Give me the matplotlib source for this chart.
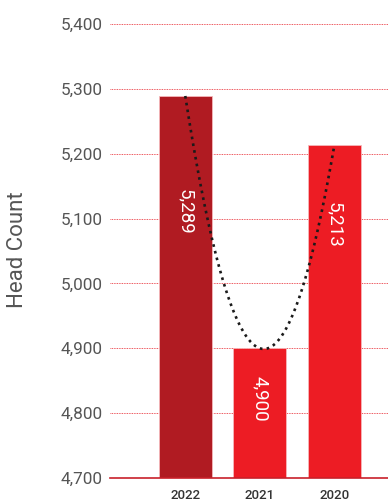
import numpy as np
import matplotlib.pyplot as plt

years = ["2022", "2021", "2020"]
head_count = [5289, 4900, 5213]
bar_colors = ["#B01B22", "#ED1C24", "#ED1C24"]
label_y = [5110, 4822, 5091]

plt.rcParams['font.family'] = ['Roboto', 'DejaVu Sans']

fig = plt.figure(figsize=(3.88, 5.01), dpi=100)
ax = fig.add_axes([110 / 388, 1 - 478 / 501, 1 - 110 / 388, (478 - 24) / 501])

x = np.arange(len(years))
ax.bar(x, head_count, width=0.71, color=bar_colors, edgecolor="#F6B8BA", linewidth=0.6, zorder=2)

for xi, v, ly in zip(x, head_count, label_y):
    ax.text(xi, ly, f"{v:,}", rotation=-90, ha="center", va="center",
            color="white", fontsize=13.5, zorder=4)

# quadratic trendline through the bars
coef = np.polyfit(x, head_count, 2)
xs = np.linspace(0, 2, 200)
ax.plot(xs, np.polyval(coef, xs), linestyle=(0, (1, 1.6)), color="#1a1a1a", linewidth=1.9, zorder=3)

ax.set_ylim(4700, 5400)
ax.set_xlim(-1.01, 2.72)
ax.set_yticks(np.arange(4700, 5401, 100))
ax.set_yticklabels([f"{t:,}" for t in range(4700, 5401, 100)], fontsize=12.3, color="#555555")
ax.set_xticks(x)
ax.set_xticklabels(years, fontsize=9.5, color="#333333", fontweight="medium")
ax.tick_params(axis="both", length=0)
ax.tick_params(axis="y", pad=5)
ax.tick_params(axis="x", pad=8)

ax.grid(axis="y", color="#E8202A", linestyle=(0, (1, 1)), linewidth=0.6, zorder=0)
ax.set_axisbelow(True)
for s in ["top", "right", "left"]:
    ax.spines[s].set_visible(False)
ax.spines["bottom"].set_color("#C8202A")
ax.spines["bottom"].set_linewidth(1.2)
ax.spines["bottom"].set_zorder(5)

fig.text(18 / 388, 1 - 250 / 501, "Head Count", rotation=90, ha="center", va="center",
         fontsize=16, color="#555555")

fig.savefig("out.png", dpi=100)
